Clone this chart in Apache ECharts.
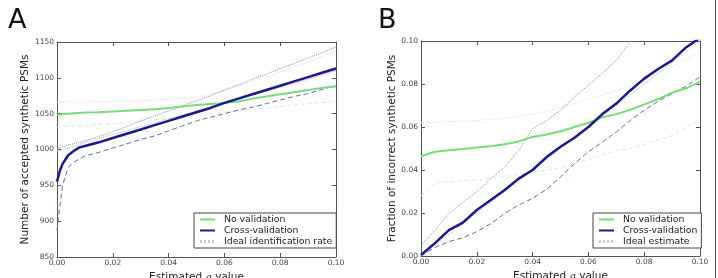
<!DOCTYPE html>
<html>
<head>
<meta charset="utf-8">
<script src="https://cdn.jsdelivr.net/npm/echarts@6/dist/echarts.min.js"></script>
<style>
  html, body { margin: 0; padding: 0; background: #fff; }
  #chart { width: 718px; height: 278px; }
</style>
</head>
<body>
<div id="chart"></div>
<script>
// panel A: accepted synthetic PSMs
const qA = [0, 0.001, 0.002, 0.004, 0.006, 0.008, 0.01, 0.015, 0.02, 0.025, 0.03, 0.035, 0.04,
  0.045, 0.05, 0.055, 0.06, 0.065, 0.07, 0.075, 0.08, 0.085, 0.09, 0.095, 0.1];
const aNoVal = [1048, 1049, 1049.5, 1050, 1050.5, 1051, 1051.5, 1052, 1053, 1054, 1055, 1056, 1058,
  1060, 1062, 1063.5, 1065, 1067, 1071, 1074, 1077, 1080, 1083, 1086, 1088];
const aNoValHigh = [1066, 1066, 1066, 1066, 1066, 1066, 1066, 1066.5, 1067, 1067.5, 1068, 1069, 1070,
  1071.5, 1073, 1077, 1082, 1088, 1095, 1101, 1108, 1115, 1122, 1130, 1138];
const aNoValLow = [1031, 1031, 1031.5, 1032, 1032.5, 1033, 1033.5, 1035, 1036, 1038, 1040, 1041.5, 1043,
  1045, 1047, 1049.5, 1052, 1054, 1056, 1058, 1060, 1062, 1064, 1065.5, 1067];
const aCross = [955, 970, 980, 992, 998, 1003, 1005, 1010, 1016, 1022, 1028, 1034, 1040,
  1046, 1052, 1058, 1065, 1071, 1077, 1083, 1089, 1095, 1101, 1107, 1113];
const aCrossHigh = [1000, 1002, 1004, 1006, 1008, 1010, 1012, 1018, 1025, 1032, 1040, 1047, 1054,
  1061, 1068, 1075, 1083, 1090, 1098, 1105, 1113, 1120, 1128, 1135, 1143];
const aCrossLow = [887, 920, 950, 975, 982, 987, 991, 996, 1002, 1008, 1014, 1019, 1026,
  1033, 1040, 1045, 1050, 1055, 1059, 1064, 1069, 1074, 1078, 1084, 1089];
const aIdeal = [998, 999, 1000, 1002, 1004, 1007, 1010, 1015, 1021, 1026, 1032, 1037, 1043,
  1048, 1054, 1059, 1065, 1070, 1076, 1081, 1087, 1092, 1098, 1104, 1110];

// panel B: fraction of incorrect synthetic PSMs
const qB = [0, 0.005, 0.01, 0.015, 0.02, 0.025, 0.03, 0.035, 0.04, 0.045, 0.05,
  0.055, 0.06, 0.065, 0.07, 0.075, 0.08, 0.085, 0.09, 0.095, 0.1];
const bNoVal = [0.0464, 0.0485, 0.0492, 0.0498, 0.0505, 0.051, 0.052, 0.0533, 0.0554, 0.0565, 0.058,
  0.060, 0.062, 0.0645, 0.066, 0.068, 0.0705, 0.073, 0.076, 0.078, 0.081];
const bNoValHigh = [0.062, 0.0622, 0.0625, 0.0627, 0.063, 0.0635, 0.064, 0.065, 0.066, 0.0675, 0.069,
  0.071, 0.073, 0.075, 0.077, 0.0795, 0.082, 0.085, 0.088, 0.0915, 0.095];
const bNoValLow = [0.028, 0.034, 0.0345, 0.035, 0.0355, 0.036, 0.037, 0.038, 0.039, 0.040, 0.041,
  0.043, 0.045, 0.047, 0.049, 0.050, 0.052, 0.054, 0.056, 0.060, 0.063];
const bCross = [0.0005, 0.006, 0.012, 0.0155, 0.0214, 0.026, 0.0307, 0.036, 0.040, 0.046, 0.0508,
  0.055, 0.060, 0.066, 0.0709, 0.077, 0.0825, 0.087, 0.091, 0.097, 0.1015];
const bCrossHigh = [0.005, 0.012, 0.0198, 0.025, 0.0299, 0.036, 0.0415, 0.049, 0.0593, 0.063, 0.0678,
  0.074, 0.0794, 0.085, 0.091, 0.0995, 0.108, 0.116, 0.124, 0.132, 0.14];
const bCrossLow = [0, 0.004, 0.0067, 0.0085, 0.0113, 0.015, 0.0198, 0.0237, 0.0268, 0.031, 0.0368,
  0.043, 0.0485, 0.053, 0.0577, 0.063, 0.0678, 0.072, 0.0755, 0.079, 0.0833];
const bIdeal = [0, 0.005, 0.01, 0.015, 0.02, 0.025, 0.03, 0.035, 0.04, 0.045, 0.05,
  0.055, 0.06, 0.065, 0.07, 0.075, 0.08, 0.085, 0.09, 0.095, 0.1];

const FONT = "DejaVu Sans";
const AXIS_COLOR = "#555";
const GREEN = "#77dd77";
const NAVY = "#1a1a8a";

function pairs(xs, ys) {
  return xs.map((x, i) => [x, ys[i]]);
}

function lineSeries(name, idx, data, color, width, type, z) {
  return {
    name: name,
    type: "line",
    xAxisIndex: idx,
    yAxisIndex: idx,
    data: data,
    showSymbol: false,
    symbol: "none",
    z: z,
    lineStyle: { color: color, width: width, type: type },
    itemStyle: { color: color }
  };
}

// 축 (아래/왼쪽은 라벨, 위/오른쪽은 눈금만)
function xAxes(gridIndex) {
  const base = {
    type: "value",
    gridIndex: gridIndex,
    min: 0,
    max: 0.1,
    interval: 0.02,
    splitLine: { show: false },
    axisLine: { show: true, onZero: false, lineStyle: { color: AXIS_COLOR, width: 1 } },
    axisTick: { show: true, inside: true, length: 4, lineStyle: { color: AXIS_COLOR } }
  };
  return [
    Object.assign({}, base, {
      position: "bottom",
      axisLabel: { fontFamily: FONT, fontSize: 7.5, color: "#444", margin: 2, formatter: (v) => v.toFixed(2) },
      name: "Estimated {q|q} value",
      nameLocation: "middle",
      nameGap: 7,
      nameTextStyle: {
        fontFamily: FONT, fontSize: 10.5, color: "#222",
        rich: { q: { fontFamily: "DejaVu Serif", fontStyle: "italic", fontSize: 10, color: "#222" } }
      }
    }),
    Object.assign({}, base, { position: "top", axisLabel: { show: false } })
  ];
}

function yAxes(gridIndex, min, max, interval, fmt, name) {
  const base = {
    type: "value",
    gridIndex: gridIndex,
    min: min,
    max: max,
    interval: interval,
    splitLine: { show: false },
    axisLine: { show: true, onZero: false, lineStyle: { color: AXIS_COLOR, width: 1 } },
    axisTick: { show: true, inside: true, length: 4, lineStyle: { color: AXIS_COLOR } }
  };
  return [
    Object.assign({}, base, {
      position: "left",
      axisLabel: { fontFamily: FONT, fontSize: 7.5, color: "#444", margin: 3, formatter: fmt },
      name: name,
      nameLocation: "middle",
      nameGap: 16,
      nameTextStyle: { fontFamily: FONT, fontSize: 10.5, color: "#222" }
    }),
    Object.assign({}, base, { position: "right", axisLabel: { show: false } })
  ];
}

function legendBox(left, names) {
  return {
    orient: "vertical",
    left: left,
    top: 213,
    data: names,
    padding: [2, 4, 2, 5],
    itemGap: 2,
    itemWidth: 15,
    itemHeight: 11,
    borderColor: "#444",
    borderWidth: 1,
    borderRadius: 0,
    backgroundColor: "#fff",
    selectedMode: false,
    itemStyle: { opacity: 0 },
    textStyle: { fontFamily: FONT, fontSize: 9.3, color: "#222", padding: [0, 0, 0, 4] }
  };
}

const chart = echarts.init(document.getElementById("chart"), null, { renderer: "canvas" });

// 각 축 인덱스: A는 x 0,1 / y 0,1, B는 x 2,3 / y 2,3
const xs = xAxes(0).concat(xAxes(1));
const ys = yAxes(0, 850, 1150, 50, (v) => String(v), "Number of accepted synthetic PSMs")
  .concat(yAxes(1, 0, 0.1, 0.02, (v) => v.toFixed(2), "Fraction of incorrect synthetic PSMs"));

const series = [
  lineSeries("A green high", 0, pairs(qA, aNoValHigh), "#cdeccd", 1, "dotted", 2),
  lineSeries("A green low", 0, pairs(qA, aNoValLow), "#d4efd4", 1, [4, 3], 2),
  lineSeries("A navy high", 0, pairs(qA, aCrossHigh), "#8c8cbf", 1, "dotted", 3),
  lineSeries("A navy low", 0, pairs(qA, aCrossLow), "#6a6ab8", 1, [5, 3], 3),
  lineSeries("Ideal identification rate", 0, pairs(qA, aIdeal), "#b0b0d8", 1, "dotted", 4),
  lineSeries("No validation", 0, pairs(qA, aNoVal), GREEN, 2, "solid", 5),
  lineSeries("Cross-validation", 0, pairs(qA, aCross), NAVY, 2.5, "solid", 6),

  lineSeries("B green high", 2, pairs(qB, bNoValHigh), "#cdeccd", 1, "dotted", 2),
  lineSeries("B green low", 2, pairs(qB, bNoValLow), "#d4efd4", 1, [4, 3], 2),
  lineSeries("B navy high", 2, pairs(qB, bCrossHigh), "#8c8cbf", 1, "dotted", 3),
  lineSeries("B navy low", 2, pairs(qB, bCrossLow), "#6a6ab8", 1, [5, 3], 3),
  lineSeries("Ideal estimate", 2, pairs(qB, bIdeal), "#b0b0d8", 1, "dotted", 4),
  lineSeries("No validation", 2, pairs(qB, bNoVal), GREEN, 2, "solid", 5),
  lineSeries("Cross-validation", 2, pairs(qB, bCross), NAVY, 2.5, "solid", 6)
];

chart.setOption({
  animation: false,
  backgroundColor: "#fff",
  title: [
    { text: "A", left: 3, top: 2, textStyle: { fontFamily: FONT, fontSize: 27, fontWeight: "normal", color: "#111" } },
    { text: "B", left: 373, top: 2, textStyle: { fontFamily: FONT, fontSize: 27, fontWeight: "normal", color: "#111" } }
  ],
  grid: [
    { left: 57, top: 42, width: 279, height: 215, containLabel: false, outerBoundsMode: "none" },
    { left: 421, top: 41, width: 279, height: 215, containLabel: false, outerBoundsMode: "none" }
  ],
  xAxis: [xs[0], xs[1], xs[2], xs[3]],
  yAxis: [ys[0], ys[1], ys[2], ys[3]],
  legend: [
    legendBox(194, ["No validation", "Cross-validation", "Ideal identification rate"]),
    legendBox(593, ["No validation", "Cross-validation", "Ideal estimate"])
  ],
  graphic: [
    { type: "line", shape: { x1: 715.5, y1: 0, x2: 715.5, y2: 278 }, style: { stroke: "#555", lineWidth: 1 } }
  ],
  series: series
});
</script>
</body>
</html>
